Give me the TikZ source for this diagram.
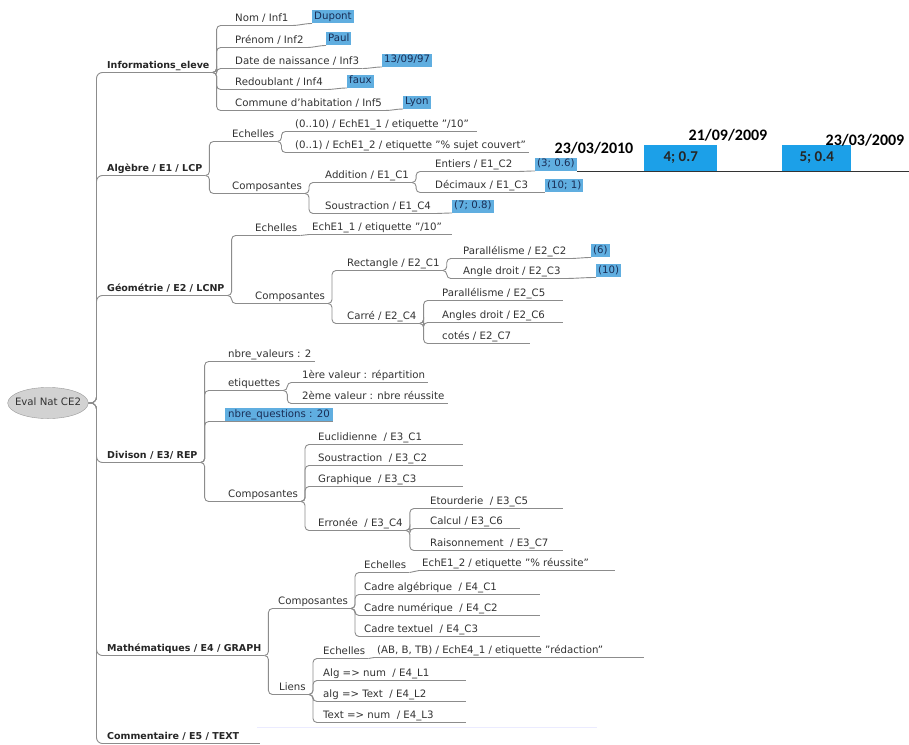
\documentclass[tikz,border=0pt]{standalone}
\usepackage{fontspec}
\setmainfont{DejaVu Sans}
\newfontfamily\datefont{Carlito}
\usetikzlibrary{shapes.geometric}

\definecolor{txt}{RGB}{50,50,50}
\definecolor{linegray}{RGB}{140,140,140}
\definecolor{hlblue}{RGB}{96,174,224}
\definecolor{bigblue}{RGB}{28,160,232}
\definecolor{valtxt}{RGB}{25,45,85}

\tikzset{
  branch/.style={draw=linegray, line width=0.9pt},
  topic/.style={anchor=south west, text=txt, font=\fontsize{10.2}{12}\selectfont,
    inner xsep=3pt, inner ysep=1.5pt, text height=7.5pt, text depth=2.5pt,
    append after command={(\tikzlastnode.south west) edge[branch] (\tikzlastnode.south east)}},
  main/.style={font=\fontsize{9.5}{11}\selectfont\bfseries, text=black!85},
  reach/.style={append after command={(\tikzlastnode.south west) edge[branch] ([xshift=#1]\tikzlastnode.south west)}},
  val/.style={anchor=south west, fill=hlblue, text=valtxt, font=\fontsize{10.2}{12}\selectfont,
    inner xsep=2pt, inner ysep=1.5pt, text height=7.5pt, text depth=2.5pt},
  bigval/.style={anchor=south west, fill=bigblue, text=black!85, inner sep=0pt,
    font=\datefont\bfseries\fontsize{15}{17}\selectfont, minimum height=26pt},
  datelabel/.style={text=black, font=\datefont\bfseries\fontsize{16}{18}\selectfont},
  rootnode/.style={ellipse, draw=gray!80, fill=gray!35, text=txt, font=\fontsize{10.2}{12}\selectfont,
    inner xsep=-4.5pt, inner ysep=6pt, text height=7.5pt, text depth=2.5pt}
}

\newcommand{\branchto}[2]{\draw[branch, rounded corners=4pt] (#1.south east) -- ++(4pt,0) |- (#2.south west);}
\newcommand{\boxto}[2]{\draw[branch] (#1.south east) to[out=0,in=180] (#2.south west);}
\newcommand{\dq}{\symbol{34}}
\newcommand{\sq}{\symbol{39}}

\begin{document}
\begin{tikzpicture}[x=1pt, y=-1pt]
    \useasboundingbox (0,0) rectangle (909,744);
    \fill[white] (0,0) rectangle (909,744);

    % Root
    \node[rootnode] (eval) at (48,403) {Eval Nat CE2};

    % Main branches
    \node[topic, main] (info) at (104,72.5) {Informations\_eleve};
    \node[topic, main] (alg) at (104,175.5) {Algèbre / E1 / LCP};
    \node[topic, main] (geo) at (104,295.5) {Géométrie / E2 / LCNP};
    \node[topic, main] (div) at (104,462.5) {Divison / E3/ REP};
    \node[topic, main] (math) at (104,655.5) {Mathématiques / E4 / GRAPH};
    \node[topic, main, reach=156] (comm) at (104,743.5) {Commentaire / E5 / TEXT};
    \foreach \b in {info,alg,geo,div,math,comm}
        \draw[branch, rounded corners=6pt] (eval.east) -- ++(8pt,0) |- (\b.south west);

    % Informations
    \node[topic] (nom) at (232,25.5) {Nom / Inf1};
    \node[topic] (prenom) at (232,47.5) {Prénom / Inf2};
    \node[topic] (naiss) at (232,68.5) {Date de naissance / Inf3};
    \node[topic] (redoub) at (232,89.5) {Redoublant / Inf4};
    \node[topic] (commune) at (232,110.5) {Commune d\sq habitation / Inf5};
    \foreach \c in {nom,prenom,naiss,redoub,commune} {\branchto{info}{\c}}
    \node[val] (dupont) at (312,23.5) {Dupont};
    \node[val] (paul) at (326,45.5) {Paul};
    \node[val] (ddn) at (382,67) {13/09/97};
    \node[val] (faux) at (347,88) {faux};
    \node[val] (lyon) at (403,109) {Lyon};
    \boxto{nom}{dupont}
    \boxto{prenom}{paul}
    \boxto{naiss}{ddn}
    \boxto{redoub}{faux}
    \boxto{commune}{lyon}

    % Algebre
    \node[topic] (echA) at (229,141.5) {Echelles};
    \node[topic] (compA) at (229,193.5) {Composantes};
    \foreach \c in {echA,compA} {\branchto{alg}{\c}}
    \node[topic, reach=185] (e11) at (292,131.5) {(0..10) / EchE1\_1 / etiquette \dq/10\dq};
    \node[topic, reach=236] (e12) at (292,152.5) {(0..1) / EchE1\_2 / etiquette \dq\% sujet couvert\dq};
    \foreach \c in {e11,e12} {\branchto{echA}{\c}}
    \node[topic] (addA) at (322,182.5) {Addition / E1\_C1};
    \node[topic] (sousA) at (322,213.5) {Soustraction / E1\_C4};
    \foreach \c in {addA,sousA} {\branchto{compA}{\c}}
    \node[topic] (ent) at (432,171.5) {Entiers / E1\_C2};
    \node[topic] (dec) at (432,192.5) {Décimaux / E1\_C3};
    \foreach \c in {ent,dec} {\branchto{addA}{\c}}
    \node[val] (v36) at (535,171) {(3; 0.6)};
    \node[val] (v101) at (545,192.5) {(10; 1)};
    \node[val] (v708) at (452,213) {(7; 0.8)};
    \boxto{ent}{v36}
    \boxto{dec}{v101}
    \boxto{sousA}{v708}

    % Timeline
    \coordinate (tlend) at (909,171);
    \draw[black!80, line width=0.9pt] (v36.south east) -- (tlend);
    \node[bigval, minimum width=73pt] (b4) at (644,171) {4; 0.7};
    \node[bigval, minimum width=69pt] (b5) at (782,171) {5; 0.4};
    \node[datelabel] (d1) at (594,148) {23/03/2010};
    \node[datelabel] (d2) at (728,135) {21/09/2009};
    \node[datelabel] (d3) at (865,140) {23/03/2009};

    % Geometrie
    \node[topic] (echG) at (252,235.5) {Echelles};
    \node[topic] (compG) at (252,303.5) {Composantes};
    \foreach \c in {echG,compG} {\branchto{geo}{\c}}
    \node[topic, reach=143] (e11g) at (309,234.5) {EchE1\_1 / etiquette \dq/10\dq};
    \boxto{echG}{e11g}
    \node[topic] (rect) at (344,270.5) {Rectangle / E2\_C1};
    \node[topic] (carre) at (344,323.5) {Carré / E2\_C4};
    \foreach \c in {rect,carre} {\branchto{compG}{\c}}
    \node[topic] (par2) at (460,258.5) {Parallélisme / E2\_C2};
    \node[topic] (ang3) at (460,278.5) {Angle droit / E2\_C3};
    \foreach \c in {par2,ang3} {\branchto{rect}{\c}}
    \node[val] (v6) at (591,257.5) {(6)};
    \node[val] (v10) at (596,277.5) {(10)};
    \boxto{par2}{v6}
    \boxto{ang3}{v10}
    \node[topic, reach=124] (par5) at (439,300.5) {Parallélisme / E2\_C5};
    \node[topic, reach=124] (ang6) at (439,322.5) {Angles droit / E2\_C6};
    \node[topic, reach=91] (cote7) at (439,343.5) {cotés / E2\_C7};
    \foreach \c in {par5,ang6,cote7} {\branchto{carre}{\c}}

    % Division
    \node[topic, reach=90] (nval) at (225,361.5) {nbre\_valeurs : 2};
    \node[topic] (etiq) at (225,390.5) {etiquettes};
    \node[topic, fill=hlblue, text=valtxt] (nq) at (225,421.5) {nbre\_questions : 20};
    \node[topic] (compD) at (225,501.5) {Composantes};
    \foreach \c in {nval,etiq,nq,compD} {\branchto{div}{\c}}
    \node[topic, reach=126] (val1) at (299,382.5) {1ère valeur : répartition};
    \node[topic, reach=146] (val2) at (299,403.5) {2ème valeur : nbre réussite};
    \foreach \c in {val1,val2} {\branchto{etiq}{\c}}
    \node[topic, reach=148] (eucl) at (315,444.5) {Euclidienne\ \ / E3\_C1};
    \node[topic, reach=148] (sousD) at (315,465.5) {Soustraction\ \ / E3\_C2};
    \node[topic, reach=148] (graph) at (315,486.5) {Graphique\ \ / E3\_C3};
    \node[topic] (erron) at (315,530.5) {Erronée\ \ / E3\_C4};
    \foreach \c in {eucl,sousD,graph,erron} {\branchto{compD}{\c}}
    \node[topic, reach=136] (etour) at (427,508.5) {Etourderie\ \ / E3\_C5};
    \node[topic, reach=93] (calc) at (427,528.5) {Calcul\ / E3\_C6};
    \node[topic, reach=136] (raison) at (427,550.5) {Raisonnement\ \ / E3\_C7};
    \foreach \c in {etour,calc,raison} {\branchto{erron}{\c}}

    % Mathematiques
    \node[topic] (compM) at (275,608.5) {Composantes};
    \node[topic] (liens) at (276,694.5) {Liens};
    \foreach \c in {compM,liens} {\branchto{math}{\c}}
    \node[topic] (echM) at (361,572.5) {Echelles};
    \node[topic, reach=179] (cadA) at (361,594.5) {Cadre algébrique\ \ / E4\_C1};
    \node[topic, reach=179] (cadN) at (361,615.5) {Cadre numérique\ \ / E4\_C2};
    \node[topic, reach=179] (cadT) at (361,636.5) {Cadre textuel\ \ / E4\_C3};
    \foreach \c in {echM,cadA,cadN,cadT} {\branchto{compM}{\c}}
    \node[topic, reach=196] (e12m) at (419,570.5) {EchE1\_2 / etiquette \dq\% réussite\dq};
    \boxto{echM}{e12m}
    \node[topic] (echL) at (320,658.5) {Echelles};
    \node[topic, reach=146] (l1) at (320,680.5) {Alg => num\ \ / E4\_L1};
    \node[topic, reach=146] (l2) at (320,701.5) {alg => Text\ \ / E4\_L2};
    \node[topic, reach=146] (l3) at (320,722.5) {Text => num\ \ / E4\_L3};
    \foreach \c in {echL,l1,l2,l3} {\branchto{liens}{\c}}
    \node[topic, reach=270] (e41) at (374,657.5) {(AB, B, TB) / EchE4\_1 / etiquette \dq rédaction\dq};
    \boxto{echL}{e41}

    % faint rule under Liens
    \draw[blue!8, line width=1pt] (257,727) -- (597,727);
\end{tikzpicture}
\end{document}
